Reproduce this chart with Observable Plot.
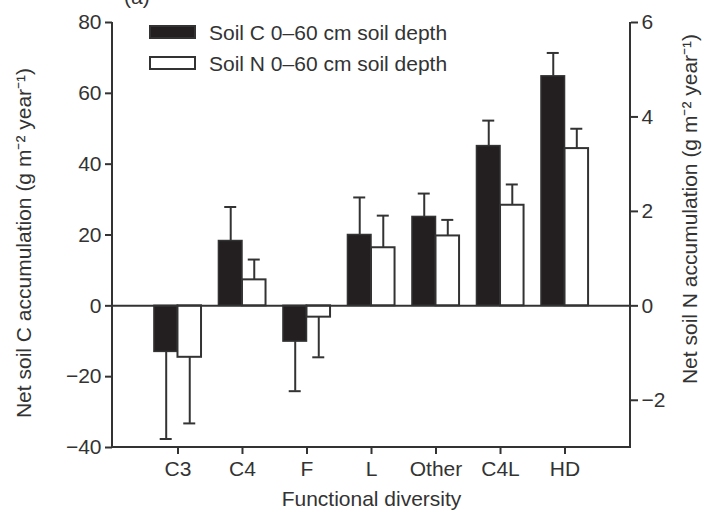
<!DOCTYPE html>
<html><head><meta charset="utf-8">
<script src="https://cdn.jsdelivr.net/npm/d3@7"></script>
<script src="https://cdn.jsdelivr.net/npm/@observablehq/plot@0.6"></script>
<style>
html,body{margin:0;padding:0;background:#fff;overflow:hidden}
#wrap{position:relative;width:704px;height:515px;font-family:"Liberation Sans",Arial,sans-serif;color:#333}
#wrap svg{position:absolute;left:0;top:0}
.sw{position:absolute;left:149px;width:47px;height:14px;box-sizing:border-box;border:2px solid #333}
.lt{position:absolute;left:209px;font-size:21px;line-height:21px;white-space:nowrap}
.pl{position:absolute;left:124px;top:-14px;font-size:21px;line-height:21px}
</style></head><body>
<div id="wrap">
</div>
<script>
// ---- data ----
const categories = ["C3", "C4", "F", "L", "Other", "C4L", "HD"];
const soilC   = [-13.0, 18.3, -10.1, 20.0, 25.1, 45.1, 64.8];   // g C m-2 yr-1
const soilCSE = [24.6, 9.6, 14.0, 10.6, 6.6, 7.2, 6.6];
const soilN   = [-1.09, 0.55, -0.24, 1.23, 1.48, 2.13, 3.33];   // g N m-2 yr-1
const soilNSE = [1.40, 0.43, 0.85, 0.68, 0.34, 0.44, 0.42];
const cTicks = [-40, -20, 0, 20, 40, 60, 80];
const nTicks = [-2, 0, 2, 4, 6];
const seriesNames = ["Soil C 0\u201360 cm soil depth", "Soil N 0\u201360 cm soil depth"];
const xLabel = "Functional diversity";
const yLabelC = "Net soil C accumulation (g m\u207B\u00B2 year\u207B\u00B9)";
const yLabelN = "Net soil N accumulation (g m\u207B\u00B2 year\u207B\u00B9)";
const panelLabel = "(a)";

// N axis is a rescaled copy of the C axis (80 C units = 6 N units)
const ratio = cTicks[cTicks.length - 1] / nTicks[nTicks.length - 1];

const rowsC = categories.map((cat, i) => ({cat, value: soilC[i], err: soilC[i] + Math.sign(soilC[i]) * soilCSE[i]}));
const rowsN = categories.map((cat, i) => ({cat, value: soilN[i] * ratio, err: (soilN[i] + Math.sign(soilN[i]) * soilNSE[i]) * ratio}));

const W = 704, H = 515, mL = 112, mR = 74, mT = 22, mB = 68;
const pIn = 0.27, pOut = 0.65;
const step = (W - mL - mR) / (categories.length - pIn + 2 * pOut);
const bw = step * (1 - pIn);
const cap = 6;
const ink = "#333";
const font = "Liberation Sans, Arial, sans-serif";

const axisLines = (index, scales, values, dims) => {
  const g = d3.create("svg:g").attr("stroke", ink).attr("stroke-width", 2).attr("fill", "none");
  const x0 = dims.marginLeft, x1 = dims.width - dims.marginRight;
  const y0 = dims.marginTop, y1 = dims.height - dims.marginBottom;
  g.append("line").attr("x1", x0).attr("x2", x0).attr("y1", y0).attr("y2", y1 + 1);
  g.append("line").attr("x1", x1).attr("x2", x1).attr("y1", y0).attr("y2", y1 + 1);
  g.append("line").attr("x1", x0 - 1).attr("x2", x1 + 1).attr("y1", y1).attr("y2", y1);
  return g.node();
};

const chart = Plot.plot({
  width: W, height: H,
  marginLeft: mL, marginRight: mR, marginTop: mT, marginBottom: mB,
  style: {fontFamily: font, fontSize: "21px", color: ink, background: "white", overflow: "visible"},
  x: {type: "band", domain: categories, paddingInner: pIn, paddingOuter: pOut, align: 0.5, round: false},
  y: {domain: [cTicks[0], cTicks[cTicks.length - 1]]},
  marks: [
    Plot.barY(rowsC, {x: "cat", y: "value", fill: "#231f20", stroke: ink, strokeWidth: 1.5, insetRight: bw / 2}),
    Plot.barY(rowsN, {x: "cat", y: "value", fill: "white", stroke: ink, strokeWidth: 2, insetLeft: bw / 2}),
    Plot.ruleX(rowsC, {x: "cat", y1: "value", y2: "err", dx: -bw / 4, stroke: ink, strokeWidth: 2}),
    Plot.ruleX(rowsN, {x: "cat", y1: "value", y2: "err", dx: bw / 4, stroke: ink, strokeWidth: 2}),
    Plot.tickY(rowsC, {x: "cat", y: "err", insetLeft: bw / 4 - cap, insetRight: bw * 3 / 4 - cap, stroke: ink, strokeWidth: 2}),
    Plot.tickY(rowsN, {x: "cat", y: "err", insetLeft: bw * 3 / 4 - cap, insetRight: bw / 4 - cap, stroke: ink, strokeWidth: 2}),
    Plot.ruleY([0], {stroke: ink, strokeWidth: 2}),
    axisLines,
    Plot.axisY({anchor: "left", ticks: cTicks, tickSize: 7, tickPadding: 4, strokeWidth: 2, label: null, fontSize: 21}),
    Plot.axisY({anchor: "right", ticks: nTicks.map(n => n * ratio), tickFormat: d => d3.format("d")(Math.round(d / ratio)), tickSize: 7, tickPadding: 4, strokeWidth: 2, label: null, fontSize: 21}),
    Plot.axisX({anchor: "bottom", tickSize: 7, tickPadding: 7, strokeWidth: 2, label: null, fontSize: 21}),
    Plot.text([yLabelC], {text: d => d, frameAnchor: "left", textAnchor: "middle", lineAnchor: "middle", rotate: -90, dx: -88, dy: 8, fontSize: 21, fill: ink}),
    Plot.text([yLabelN], {text: d => d, frameAnchor: "right", textAnchor: "middle", lineAnchor: "middle", rotate: -90, dx: 60, dy: -26, fontSize: 21, fill: ink}),
    Plot.text([xLabel], {text: d => d, frameAnchor: "bottom", textAnchor: "middle", dy: 58, fontSize: 21, fill: ink})
  ]
});

const wrap = document.getElementById("wrap");
wrap.appendChild(chart);

// legend (inside the plot area, as in the reference)
const legendColors = ["#231f20", "white"];
const legendTops = [25, 56];
seriesNames.forEach((name, i) => {
  const sw = document.createElement("div");
  sw.className = "sw";
  sw.style.top = legendTops[i] + "px";
  sw.style.background = legendColors[i];
  wrap.appendChild(sw);
  const t = document.createElement("div");
  t.className = "lt";
  t.style.top = (legendTops[i] - 3) + "px";
  t.textContent = name;
  wrap.appendChild(t);
});
const pl = document.createElement("div");
pl.className = "pl";
pl.textContent = panelLabel;
wrap.appendChild(pl);
</script>
</body></html>
